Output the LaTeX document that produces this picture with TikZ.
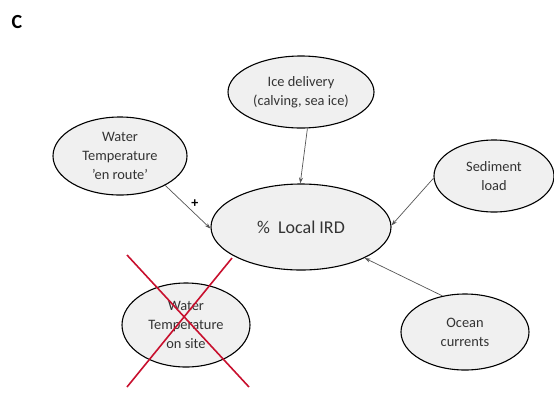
\documentclass[tikz,border=0pt]{standalone}
\usepackage{fontspec}
\setmainfont{Carlito}
\usetikzlibrary{shapes.geometric,arrows.meta}
\definecolor{ellfill}{HTML}{F0F0F0}
\definecolor{arrgray}{HTML}{555555}
\definecolor{xred}{HTML}{C8102E}
\begin{document}
\begin{tikzpicture}[x=1pt,y=-1pt,
  bub/.style={ellipse,draw=black,line width=1.1pt,fill=ellfill,inner sep=0pt,align=center,font=\fontsize{14.4}{19}\selectfont,text=black!80},
  arr/.style={draw=arrgray,line width=0.7pt,-{Stealth[length=6pt,width=4pt]}},
  cross/.style={draw=xred,line width=1.6pt}]
\useasboundingbox (0,0) rectangle (554,392);
\node[font=\fontsize{20}{24}\selectfont\bfseries] (lab) at (17,22) {C};
\node[bub,minimum width=180pt,minimum height=86pt,font=\fontsize{18}{21}\selectfont] (ird) at (301,227) {\%\ \ Local IRD};
\node[bub,minimum width=146pt,minimum height=72pt] (ice) at (301,92) {Ice delivery\\(calving, sea ice)};
\node[bub,minimum width=134pt,minimum height=78pt] (route) at (120,156) {Water\\Temperature\\’en route’};
\node[bub,minimum width=120pt,minimum height=72pt] (sed) at (494,176) {Sediment\\load};
\node[bub,minimum width=128pt,minimum height=84pt] (site) at (186,325) {Water\\Temperature\\on site};
\node[bub,minimum width=128pt,minimum height=76pt] (ocean) at (465,332) {Ocean\\currents};
\draw[arr] (ice.-80) -- (ird.91);
\draw[arr] (route.-33) -- node[pos=0.55,above right,inner sep=1pt,font=\fontsize{14}{16}\selectfont\bfseries] (plus) {+} (ird.181);
\draw[arr] (sed.182) -- (ird.1);
\draw[arr] (ocean.122) -- (ird.-26);
\coordinate (xa) at (127,255);
\coordinate (xb) at (249,387);
\coordinate (xc) at (232,258);
\coordinate (xd) at (127,387);
\draw[cross] (xa) -- (xb);
\draw[cross] (xc) -- (xd);
\end{tikzpicture}
\end{document}
